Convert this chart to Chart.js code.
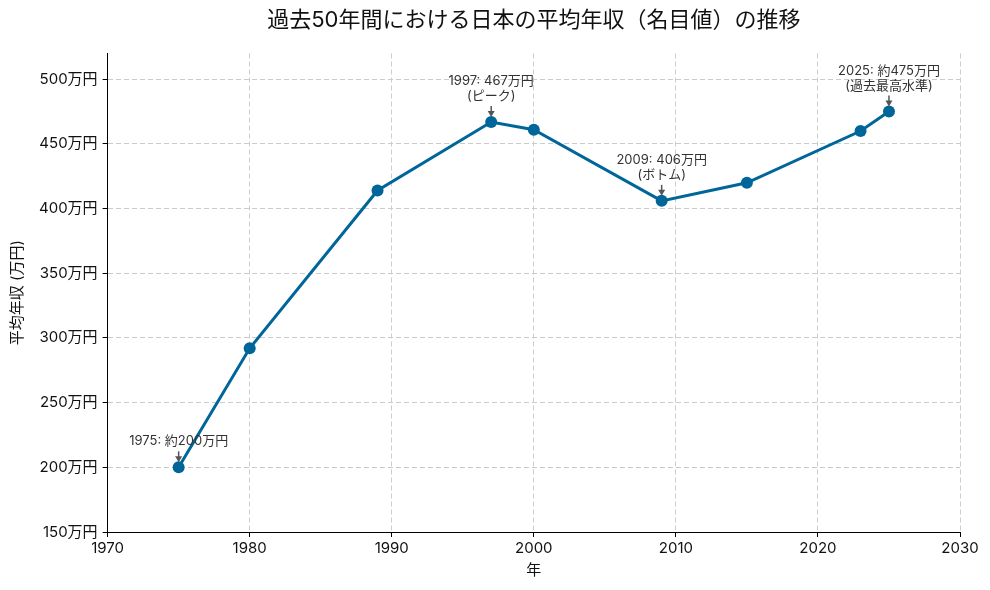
<!DOCTYPE html>
<html>
<head>
<meta charset="utf-8">
<script src="https://cdn.jsdelivr.net/npm/chart.js@4/dist/chart.umd.min.js"></script>
<style>
html,body{margin:0;padding:0;background:#fff;}
#c{display:block;}
</style>
</head>
<body>
<canvas id="c" width="990" height="590"></canvas>
<script>
const years = [1975, 1980, 1989, 1997, 2000, 2009, 2015, 2023, 2025];
const income = [200, 292, 414, 467, 461, 406, 420, 460, 475];
const annotYears = [1975, 1997, 2009, 2025];
const annotValues = [200, 467, 406, 475];
const annotLabels = [
  ["1975: 約200万円"],
  ["1997: 467万円", "(ピーク)"],
  ["2009: 406万円", "(ボトム)"],
  ["2025: 約475万円", "(過去最高水準)"]
];
const titleText = "過去50年間における日本の平均年収（名目値）の推移";
const xTitle = "年";
const yTitle = "平均年収 (万円)";

const FONT = "Inter, 'Noto Sans CJK JP', sans-serif";

const annotPlugin = {
  id: 'annot',
  afterDatasetsDraw(chart) {
    const ctx = chart.ctx;
    const xs = chart.scales.x, ys = chart.scales.y;
    ctx.save();
    ctx.font = "13px " + FONT;
    ctx.textAlign = 'center';
    ctx.textBaseline = 'middle';
    for (let i = 0; i < annotYears.length; i++) {
      const px = xs.getPixelForValue(annotYears[i]);
      const py = ys.getPixelForValue(annotValues[i]);
      const lines = annotLabels[i];
      const lh = 15;
      const bottomY = py - 26;
      ctx.fillStyle = '#333';
      lines.forEach((l, k) => {
        ctx.fillText(l, px, bottomY - (lines.length - 1 - k) * lh);
      });
      const y0 = bottomY + 10, y1 = py - 5;
      ctx.strokeStyle = '#555';
      ctx.fillStyle = '#555';
      ctx.lineWidth = 1.5;
      ctx.beginPath();
      ctx.moveTo(px, y0);
      ctx.lineTo(px, y1 - 2);
      ctx.stroke();
      ctx.beginPath();
      ctx.moveTo(px, y1);
      ctx.lineTo(px - 3.5, y1 - 6);
      ctx.lineTo(px + 3.5, y1 - 6);
      ctx.closePath();
      ctx.fill();
    }
    ctx.restore();
  }
};

const gridOpts = {color: '#cccccc', lineWidth: 1, drawTicks: true, tickLength: 5,
  tickColor: '#000', tickBorderDash: [], tickWidth: 1};
const borderOpts = {display: true, color: '#000', width: 1, dash: [5, 3]};

new Chart(document.getElementById('c'), {
  type: 'line',
  data: {
    datasets: [{
      data: years.map((y, i) => ({x: y, y: income[i]})),
      borderColor: '#006699',
      backgroundColor: '#006699',
      borderWidth: 3,
      pointRadius: 6,
      pointBorderWidth: 0,
      pointHoverRadius: 6,
      pointBackgroundColor: '#006699',
      tension: 0
    }]
  },
  options: {
    responsive: false,
    animation: false,
    layout: {padding: {left: 8, right: 30, top: 5, bottom: 11}},
    plugins: {
      legend: {display: false},
      tooltip: {enabled: false},
      title: {
        display: true,
        text: titleText,
        fullSize: false,
        color: '#111',
        font: {family: FONT, size: 22, weight: 'normal'},
        padding: {top: 2, bottom: 20}
      }
    },
    scales: {
      x: {
        type: 'linear',
        min: 1970, max: 2030,
        ticks: {stepSize: 10, color: '#111', font: {family: FONT, size: 15}, padding: 2,
          callback: v => String(v)},
        grid: gridOpts,
        border: borderOpts,
        title: {display: true, text: xTitle, color: '#111', font: {family: FONT, size: 15}, padding: {top: 2, bottom: 0}}
      },
      y: {
        min: 150, max: 520,
        afterBuildTicks: s => { s.ticks = s.ticks.filter(t => t.value % 50 === 0); },
        ticks: {stepSize: 50, color: '#111', font: {family: FONT, size: 15}, padding: 5,
          callback: v => v + '万円'},
        grid: gridOpts,
        border: borderOpts,
        title: {display: true, text: yTitle, color: '#111', font: {family: FONT, size: 15}, padding: {top: 0, bottom: 8}}
      }
    }
  },
  plugins: [annotPlugin]
});
</script>
</body>
</html>
